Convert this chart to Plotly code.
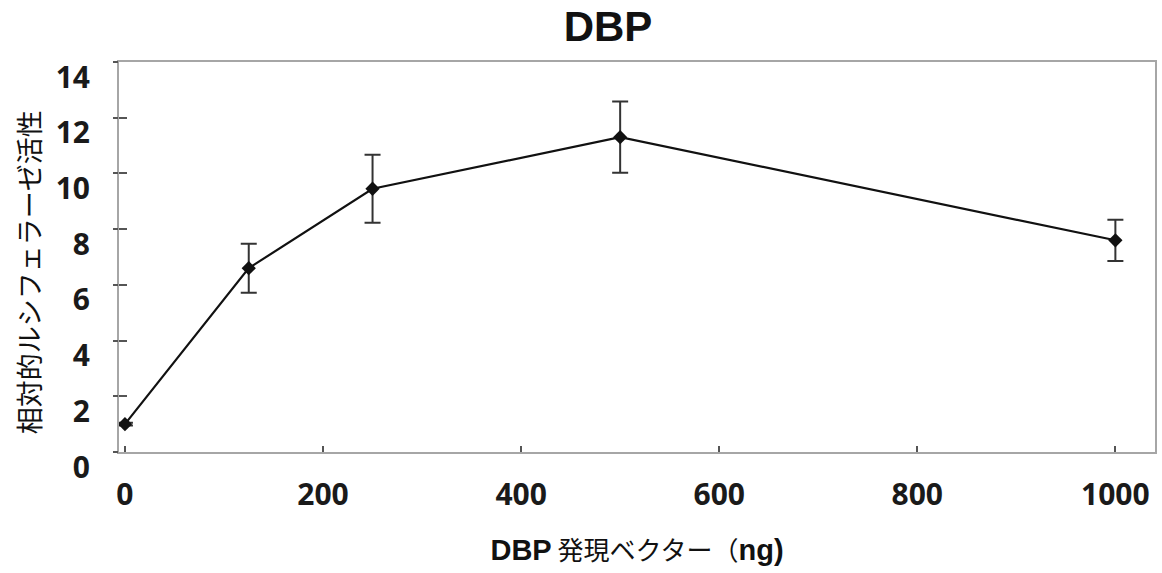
import plotly.graph_objects as go

# DBP expression vector dose (ng) and relative luciferase activity
dose_ng = [0, 125, 250, 500, 1000]
activity = [1.0, 6.6, 9.45, 11.3, 7.6]
activity_err = [0.05, 0.88, 1.22, 1.28, 0.74]

x_ticks = [0, 200, 400, 600, 800, 1000]
y_ticks = [0, 2, 4, 6, 8, 10, 12, 14]

title_text = "<b>DBP</b>"
x_title = ("<span style='font-family:Liberation Sans;font-size:29px'><b>DBP</b></span> "
           "発現ベクター（<span style='font-family:Liberation Sans;font-size:29px'><b>ng)</b></span>")
y_title = "相対的ルシフェラーゼ活性"

AXIS_GRAY = "#a6a6a6"
TICK_FONT = dict(family="Open Sans", size=30, color="#1a1a1a", weight="bold")

fig = go.Figure()
fig.add_trace(go.Scatter(
    x=dose_ng,
    y=activity,
    mode="lines+markers",
    line=dict(color="#111111", width=2.2),
    marker=dict(symbol="diamond", size=11, color="#111111"),
    error_y=dict(type="data", array=activity_err, visible=True,
                 color="#333333", thickness=2, width=8),
    showlegend=False,
))
# invisible trace to carry the outer half of the y ticks
fig.add_trace(go.Scatter(x=[0], y=[0], yaxis="y2", mode="markers",
                         marker=dict(opacity=0), showlegend=False,
                         hoverinfo="skip"))

fig.update_layout(
    width=1162, height=573,
    margin=dict(l=119, r=5, t=62, b=121),
    paper_bgcolor="white", plot_bgcolor="white",
    title=dict(text=title_text, x=608 / 1162, xanchor="center",
               y=1 - 26 / 573, yanchor="middle", xref="container",
               font=dict(family="Liberation Sans", size=42, color="#111111")),
    xaxis=dict(
        range=[-6, 1040], tickvals=x_ticks, ticktext=[str(v) for v in x_ticks],
        ticks="inside", ticklen=6, tickwidth=2, tickcolor="#555555",
        showline=True, linecolor=AXIS_GRAY, linewidth=2, mirror=True,
        showgrid=False, zeroline=False,
        tickfont=TICK_FONT, ticklabelstandoff=15,
        title=dict(text=x_title, standoff=29,
                   font=dict(family="Noto Sans CJK JP", size=26, color="#111111")),
    ),
    yaxis=dict(
        range=[0, 14], tickvals=y_ticks, ticktext=[str(v) for v in y_ticks],
        ticks="inside", ticklen=8, tickwidth=2, tickcolor="#555555",
        showline=True, linecolor=AXIS_GRAY, linewidth=2, mirror=True,
        showgrid=False, zeroline=False,
        tickfont=TICK_FONT, ticklabelstandoff=21, ticklabelshift=15,
    ),
    yaxis2=dict(
        range=[0, 14], tickvals=y_ticks, overlaying="y", side="left",
        ticks="outside", ticklen=5, tickwidth=2, tickcolor="#555555",
        showticklabels=False, showgrid=False, zeroline=False, showline=False,
    ),
    annotations=[dict(
        text=y_title, textangle=-90, xref="paper", yref="paper",
        x=-(119 - 28) / 1038, y=(452 - 272) / 390,
        xanchor="center", yanchor="middle", showarrow=False,
        font=dict(family="Noto Sans CJK JP", size=27, color="#111111"),
    )],
)

fig.write_html("out.html")
